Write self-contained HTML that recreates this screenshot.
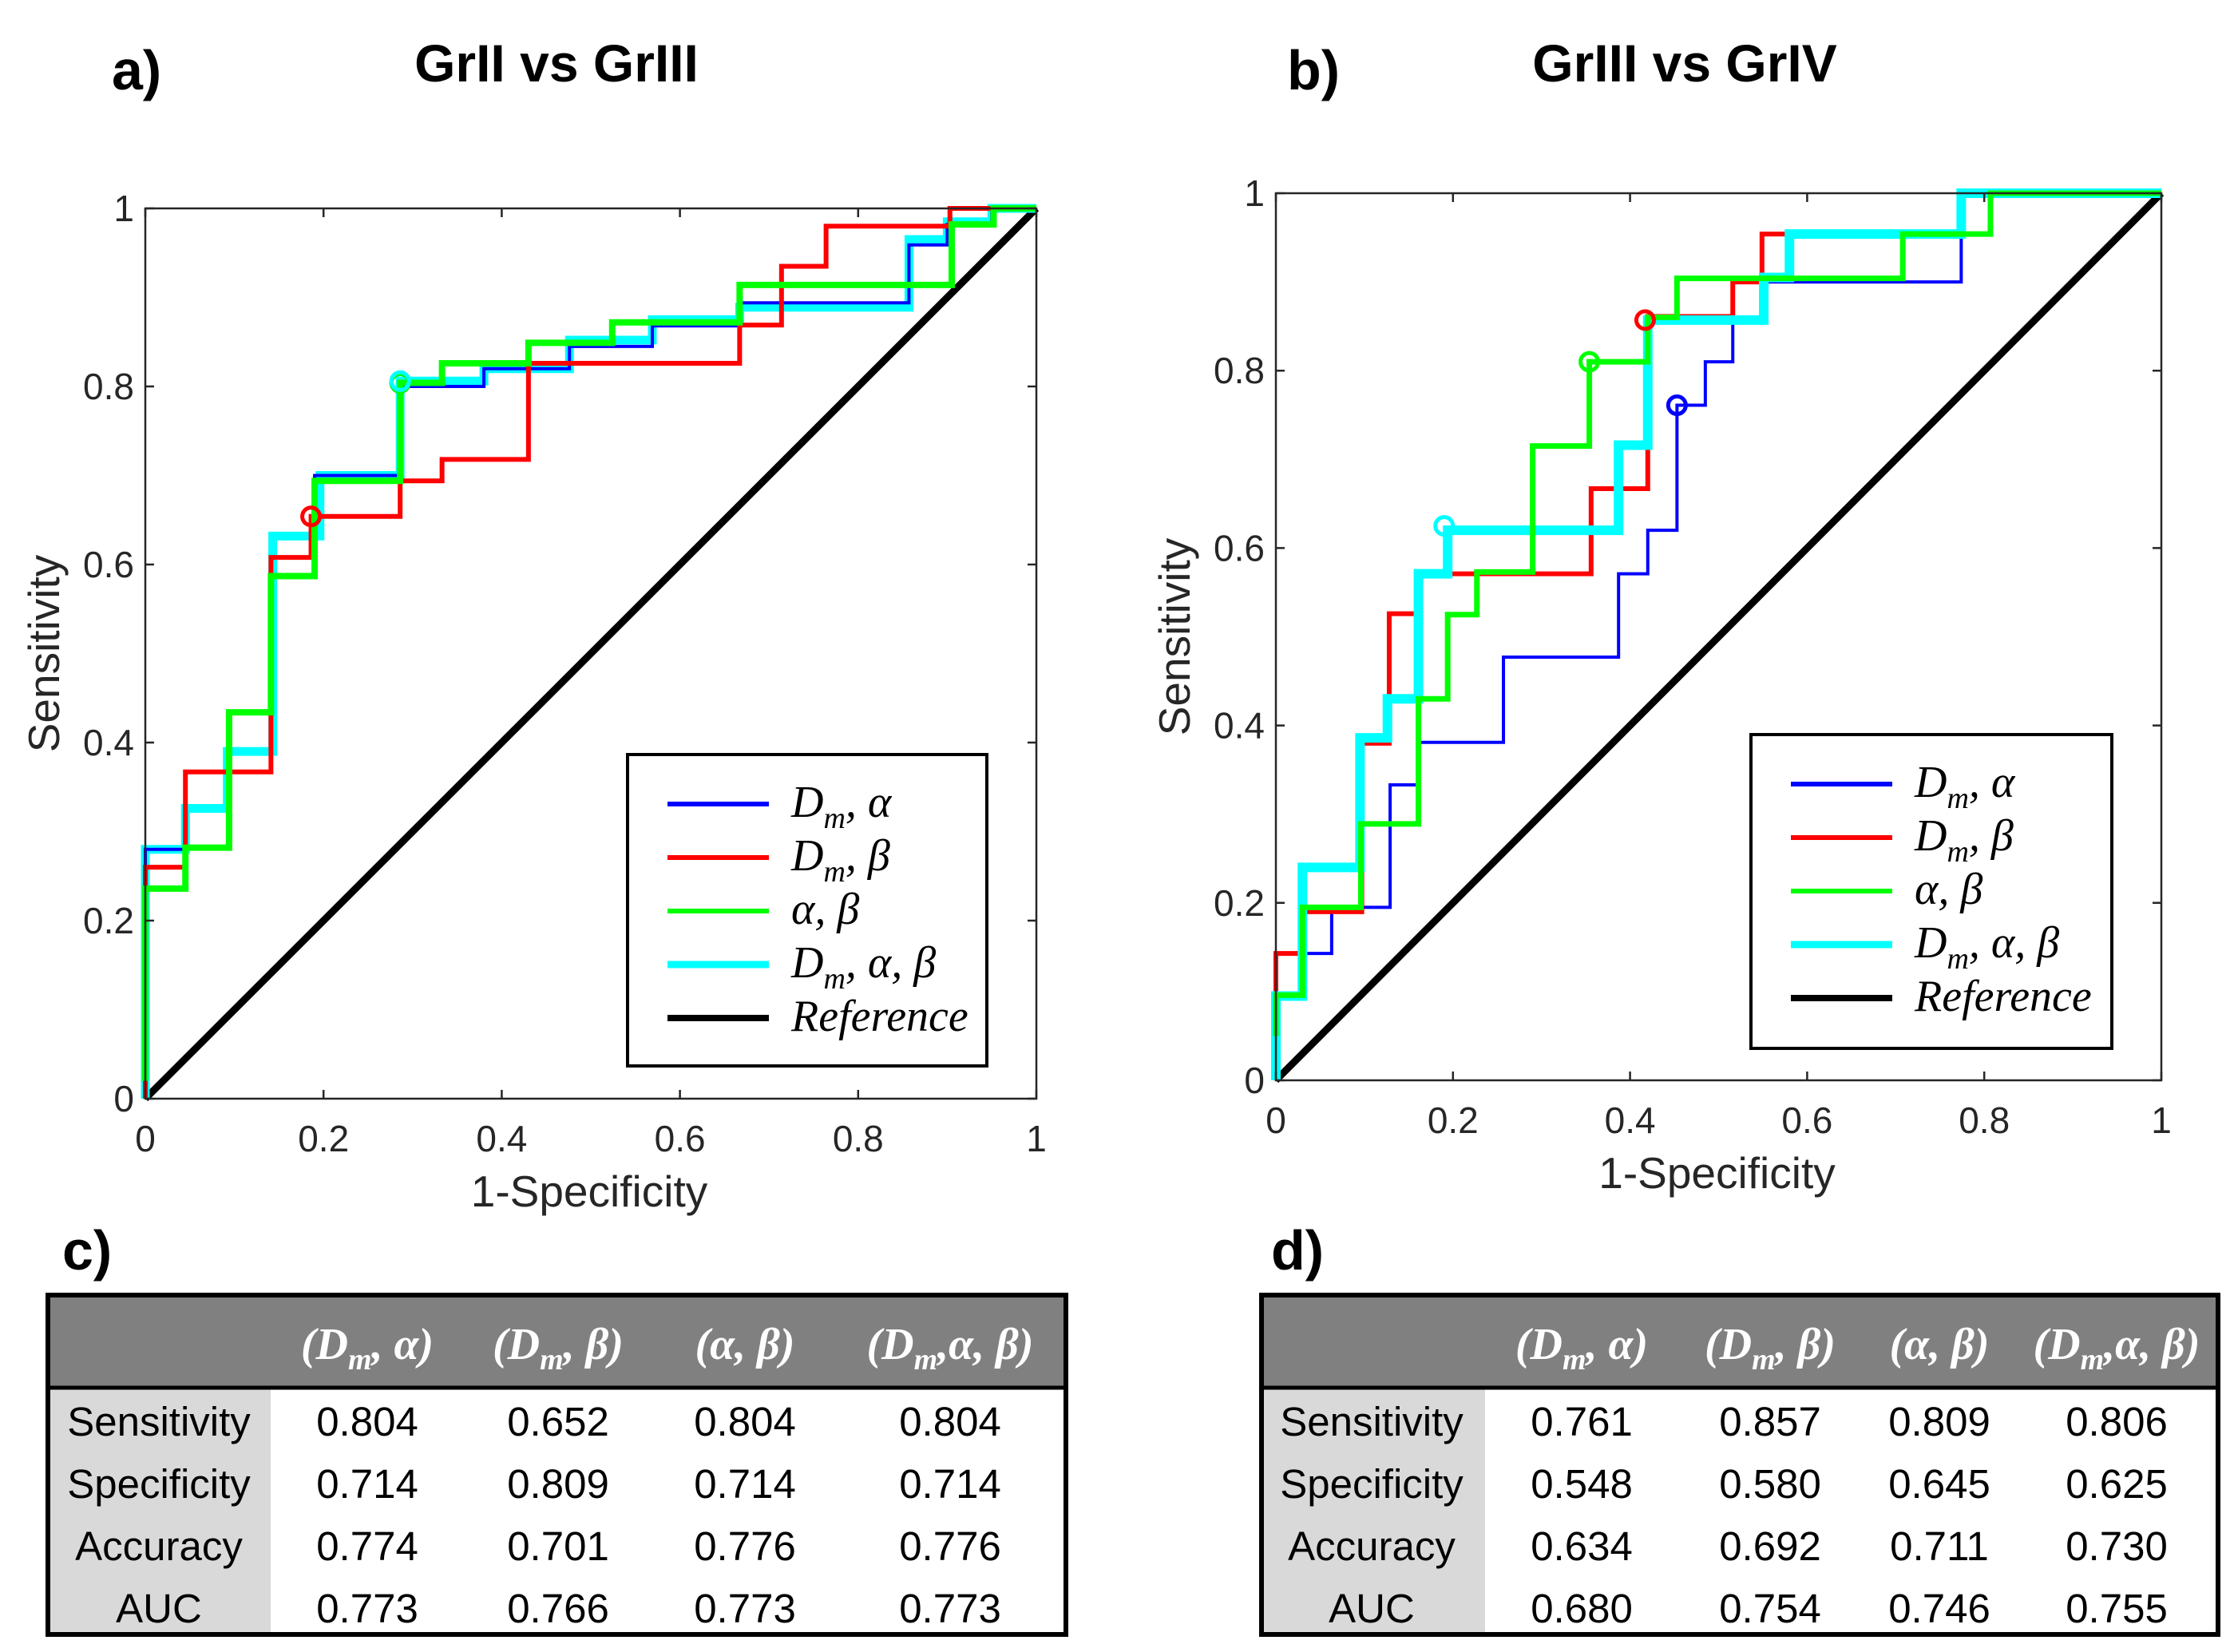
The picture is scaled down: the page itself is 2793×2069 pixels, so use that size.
<!DOCTYPE html>
<html><head><meta charset="utf-8"><style>
html,body{margin:0;padding:0;background:#fff;}
svg{display:block;}
</style></head><body>
<svg id="fig" xmlns="http://www.w3.org/2000/svg" width="2793" height="2069" viewBox="0 0 2793 2069">
<rect width="2793" height="2069" fill="#fff"/>
</svg>
<script>
// ---- data: panel a (GrII vs GrIII) ----
const ticks = [0, 0.2, 0.4, 0.6, 0.8, 1];
const tickLabels = ["0", "0.2", "0.4", "0.6", "0.8", "1"];
const aBlueX = [0, 0, 0.045, 0.141, 0.19, 0.286, 0.38, 0.476, 0.569, 0.667, 0.857, 0.90, 0.95, 1];
const aBlueY = [0, 0.28, 0.367, 0.608, 0.70, 0.80, 0.82, 0.845, 0.868, 0.894, 0.959, 0.982, 1, 1];
const aRedX = [0, 0, 0.045, 0.141, 0.186, 0.286, 0.333, 0.43, 0.667, 0.714, 0.764, 0.903, 1];
const aRedY = [0, 0.26, 0.367, 0.608, 0.654, 0.694, 0.718, 0.826, 0.869, 0.935, 0.98, 1, 1];
const aGreenX = [0, 0, 0.045, 0.094, 0.141, 0.19, 0.286, 0.333, 0.43, 0.524, 0.667, 0.905, 0.952, 1];
const aGreenY = [0.02, 0.236, 0.282, 0.434, 0.587, 0.694, 0.804, 0.826, 0.849, 0.872, 0.914, 0.982, 1, 1];
const aCyanX = [0, 0, 0.045, 0.092, 0.143, 0.196, 0.286, 0.38, 0.476, 0.569, 0.667, 0.857, 0.90, 0.95, 1];
const aCyanY = [0, 0.28, 0.326, 0.39, 0.632, 0.70, 0.806, 0.82, 0.852, 0.875, 0.889, 0.965, 0.985, 1, 1];
const aOptX = [0.286, 0.186, 0.286, 0.286];
const aOptY = [0.804, 0.654, 0.804, 0.806];
// ---- data: panel b (GrIII vs GrIV) ----
const bBlueX = [0, 0, 0.063, 0.129, 0.162, 0.257, 0.387, 0.42, 0.453, 0.485, 0.516, 0.774, 1];
const bBlueY = [0, 0.143, 0.195, 0.333, 0.381, 0.477, 0.571, 0.62, 0.761, 0.81, 0.90, 1, 1];
const bRedX = [0, 0, 0.032, 0.097, 0.128, 0.162, 0.356, 0.42, 0.516, 0.549, 0.774, 1];
const bRedY = [0, 0.143, 0.19, 0.38, 0.526, 0.571, 0.667, 0.861, 0.90, 0.954, 1, 1];
const bGreenX = [0, 0, 0.03, 0.096, 0.161, 0.194, 0.227, 0.29, 0.354, 0.42, 0.453, 0.708, 0.807, 1];
const bGreenY = [0.05, 0.096, 0.195, 0.289, 0.43, 0.525, 0.573, 0.715, 0.81, 0.86, 0.904, 0.954, 1, 1];
const bCyanX = [0, 0, 0.03, 0.095, 0.126, 0.161, 0.194, 0.387, 0.42, 0.551, 0.58, 0.774, 1];
const bCyanY = [0, 0.095, 0.24, 0.386, 0.43, 0.571, 0.62, 0.716, 0.857, 0.905, 0.954, 1, 1];
const bOptX = [0.453, 0.417, 0.354, 0.19];
const bOptY = [0.761, 0.857, 0.81, 0.625];
// ---- table data ----
const rowNames = ["Sensitivity", "Specificity", "Accuracy", "AUC"];
const cValues = [["0.804","0.652","0.804","0.804"],["0.714","0.809","0.714","0.714"],["0.774","0.701","0.776","0.776"],["0.773","0.766","0.773","0.773"]];
const dValues = [["0.761","0.857","0.809","0.806"],["0.548","0.580","0.645","0.625"],["0.634","0.692","0.711","0.730"],["0.680","0.754","0.746","0.755"]];

const NS = "http://www.w3.org/2000/svg";
const svg = document.getElementById('fig');
function mk(tag, attrs, parent, name, inter) {
  const e = document.createElementNS(NS, tag);
  for (const k in attrs) e.setAttribute(k, attrs[k]);
  
  
  (parent || svg).appendChild(e);
  return e;
}
function txt(str, attrs, name, parent) {
  const t = mk('text', attrs, parent, name, false);
  t.textContent = str;
  return t;
}
const COL = {blue:'#0000ff', red:'#ff0000', green:'#00ff00', cyan:'#00ffff'};
const LEG = ["D|m|, α", "D|m|, β", " α, β", "D|m|, α, β", "Reference"];

function panel(p) {
  const g = mk('g', {}, svg, 'panel-' + p.id, false);
  const sx = v => p.x0 + v * (p.x1 - p.x0);
  const sy = v => p.y0 + v * (p.y1 - p.y0);
  mk('line', {x1:sx(0), y1:sy(0), x2:sx(1), y2:sy(1), stroke:'#000', 'stroke-width':9}, g, 'reference-line', false);
  for (const s of p.series) {
    let d = 'M' + sx(s.x[0]) + ' ' + sy(s.y[0]);
    for (let i = 1; i < s.x.length; i++) d += ' H' + sx(s.x[i]) + ' V' + sy(s.y[i]);
    mk('path', {d:d, fill:'none', stroke:COL[s.c], 'stroke-width':s.w}, g, 'roc-curve-' + s.c, false);
  }
  for (let i = 0; i < p.optX.length; i++) {
    const c = p.optC[i];
    mk('circle', {cx:sx(p.optX[i]), cy:sy(p.optY[i]), r:11, fill:'none', stroke:COL[c], 'stroke-width':5}, g, 'optimal-point-' + c, false);
  }
  mk('rect', {x:p.x0, y:p.y1, width:p.x1-p.x0, height:p.y0-p.y1, fill:'none', stroke:'#262626', 'stroke-width':2.5}, g, 'axes-box', false);
  ticks.forEach((t, i) => {
    mk('path', {d:`M${sx(t)} ${p.y0} v-11 M${sx(t)} ${p.y1} v11 M${p.x0} ${sy(t)} h11 M${p.x1} ${sy(t)} h-11`, stroke:'#262626', 'stroke-width':2.5}, g, 'tick-mark', false);
    txt(tickLabels[i], {x:sx(t), y:p.y0 + 66, 'text-anchor':'middle', 'font-family':'Liberation Sans, sans-serif', 'font-size':46, fill:'#262626'}, 'x-tick-label', g);
    txt(tickLabels[i], {x:p.x0 - 14, y:sy(t) + 16, 'text-anchor':'end', 'font-family':'Liberation Sans, sans-serif', 'font-size':46, fill:'#262626'}, 'y-tick-label', g);
  });
  txt('1-Specificity', {x:(p.x0+p.x1)/2 - 2, y:p.y0 + 135, 'text-anchor':'middle', 'font-family':'Liberation Sans, sans-serif', 'font-size':55, fill:'#262626'}, 'x-axis-title', g);
  txt('Sensitivity', {x:0, y:0, transform:`translate(${p.x0-108},${(p.y0+p.y1)/2}) rotate(-90)`, 'text-anchor':'middle', 'font-family':'Liberation Sans, sans-serif', 'font-size':55, fill:'#262626'}, 'y-axis-title', g);
  txt(p.title, {x:p.tx, y:102, 'text-anchor':'middle', 'font-family':'Liberation Sans, sans-serif', 'font-weight':'bold', 'font-size':66, fill:'#000'}, 'chart-title', g);
  txt(p.id + ')', {x:p.lx, y:112, 'font-family':'Liberation Sans, sans-serif', 'font-weight':'bold', 'font-size':70, fill:'#000'}, 'panel-label', g);
  const L = p.leg;
  const lg = mk('g', {}, g, 'legend', false);
  mk('rect', {x:L.x, y:L.y, width:L.w, height:L.h, fill:'#fff', stroke:'#000', 'stroke-width':4}, lg, 'legend-box', false);
  const cols = ['blue','red','green','cyan','black'];
  for (let i = 0; i < 5; i++) {
    const yy = L.y + 62 + i * 67;
    mk('line', {x1:L.x+50, x2:L.x+177, y1:yy, y2:yy, stroke:cols[i]==='black'?'#000':COL[cols[i]], 'stroke-width':i===3?9:(i===4?8:6)}, lg, 'legend-line-' + cols[i], false);
    const t = mk('text', {x:L.x+205, y:yy+16, 'font-family':'Liberation Serif, serif', 'font-style':'italic', 'font-size':56, fill:'#000'}, lg, 'legend-entry', false);
    const parts = LEG[i].split('|');
    parts.forEach((pt, k) => {
      const ts = document.createElementNS(NS, 'tspan');
      ts.textContent = pt;
      if (k === 1) { ts.setAttribute('dy', 14); ts.setAttribute('font-size', 38); }
      if (k === 2) { ts.setAttribute('dy', -14); }
      t.appendChild(ts);
    });
  }
}

panel({id:'a', x0:182, x1:1298, y0:1376, y1:261, title:'GrII vs GrIII', tx:697, lx:140,
  leg:{x:786, y:945, w:450, h:390},
  series:[{x:aCyanX,y:aCyanY,c:'cyan',w:11},{x:aBlueX,y:aBlueY,c:'blue',w:4},{x:aRedX,y:aRedY,c:'red',w:6},{x:aGreenX,y:aGreenY,c:'green',w:8}],
  optX:aOptX, optY:aOptY, optC:['blue','red','green','cyan']});
panel({id:'b', x0:1598, x1:2707, y0:1353, y1:242, title:'GrIII vs GrIV', tx:2110, lx:1612,
  leg:{x:2193, y:920, w:452, h:393},
  series:[{x:bBlueX,y:bBlueY,c:'blue',w:4},{x:bRedX,y:bRedY,c:'red',w:6},{x:bCyanX,y:bCyanY,c:'cyan',w:12},{x:bGreenX,y:bGreenY,c:'green',w:7}],
  optX:bOptX, optY:bOptY, optC:['blue','red','green','cyan']});

const HEAD = ["(D|m|, α)", "(D|m|, β)", "(α, β)", "(D|m|,α, β)"];
function table(t) {
  const g = mk('g', {}, svg, 'table-' + t.id, false);
  mk('rect', {x:t.x0, y:1622, width:t.x1-t.x0, height:t.y1-1622, fill:'#fff'}, g, 'table-body', false);
  mk('rect', {x:t.x0, y:1622, width:t.x1-t.x0, height:115, fill:'#808080'}, g, 'table-header', false);
  mk('rect', {x:t.x0, y:1737, width:t.lc-t.x0, height:t.y1-1737, fill:'#d9d9d9'}, g, 'row-label-column', false);
  mk('line', {x1:t.x0, x2:t.x1, y1:1738, y2:1738, stroke:'#000', 'stroke-width':5}, g, 'header-rule', false);
  mk('rect', {x:t.x0, y:1622, width:t.x1-t.x0, height:t.y1-1622, fill:'none', stroke:'#000', 'stroke-width':6}, g, 'table-border', false);
  HEAD.forEach((h, j) => {
    const te = mk('text', {x:t.cols[j], y:1702, 'text-anchor':'middle', 'font-family':'Liberation Serif, serif', 'font-style':'italic', 'font-weight':'bold', 'font-size':56, fill:'#fff'}, g, 'column-header', false);
    h.split('|').forEach((pt, k) => {
      const ts = document.createElementNS(NS, 'tspan');
      ts.textContent = pt;
      if (k === 1) { ts.setAttribute('dy', 13); ts.setAttribute('font-size', 38); }
      if (k === 2) { ts.setAttribute('dy', -13); }
      te.appendChild(ts);
    });
  });
  rowNames.forEach((r, i) => {
    const yy = 1798 + i * 78;
    txt(r, {x:t.lcx, y:yy, 'text-anchor':'middle', 'font-family':'Liberation Sans, sans-serif', 'font-size':51, fill:'#000'}, 'row-label', g);
    t.vals[i].forEach((v, j) => {
      txt(v, {x:t.cols[j], y:yy, 'text-anchor':'middle', 'font-family':'Liberation Sans, sans-serif', 'font-size':51, fill:'#000'}, 'table-cell', g);
    });
  });
  txt(t.id + ')', {x:t.lx, y:1590, 'font-family':'Liberation Sans, sans-serif', 'font-weight':'bold', 'font-size':70, fill:'#000'}, 'panel-label', g);
}
table({id:'c', x0:60, x1:1335, y1:2047, lc:339, lcx:199, cols:[460,699,933,1190], vals:cValues, lx:78});
table({id:'d', x0:1580, x1:2778, y1:2047, lc:1860, lcx:1718, cols:[1981,2217,2429,2651], vals:dValues, lx:1592});
</script>
</body></html>
